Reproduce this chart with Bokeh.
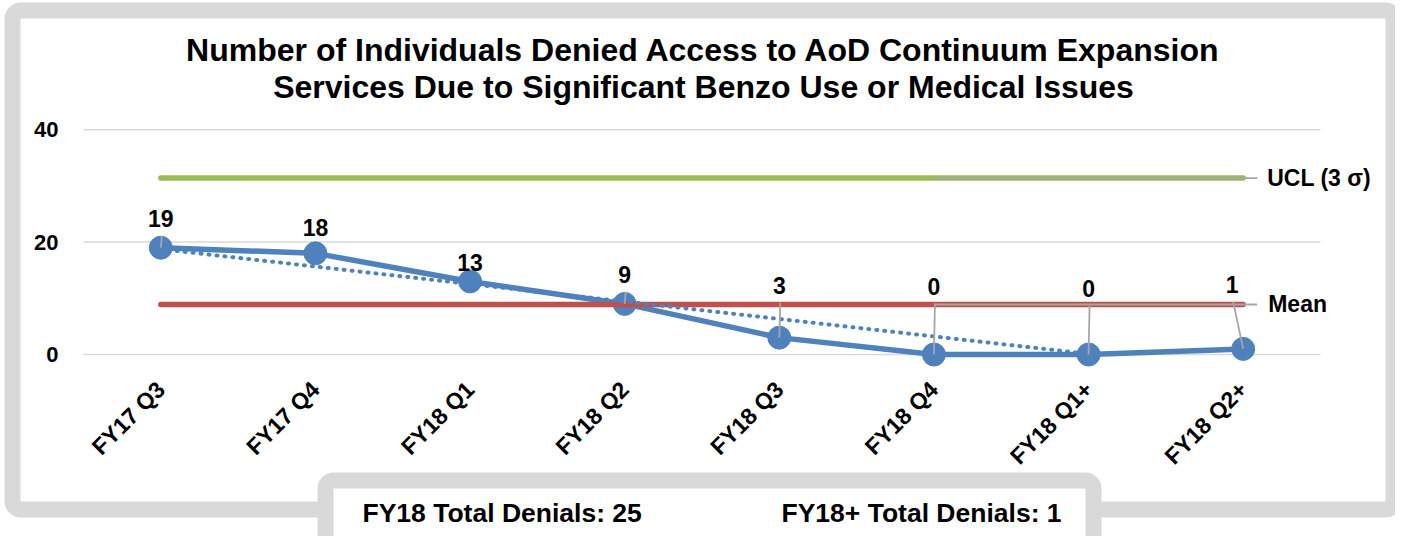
import math
import numpy as np
from bokeh.plotting import figure
from bokeh.models import (FixedTicker, Range1d, BoxAnnotation, Label, LabelSet,
                          ColumnDataSource)
from bokeh.core.properties import value
from bokeh.embed import file_html
from bokeh.resources import INLINE

# ---------------- data ----------------
categories = ["FY17 Q3", "FY17 Q4", "FY18 Q1", "FY18 Q2",
              "FY18 Q3", "FY18 Q4", "FY18 Q1+", "FY18 Q2+"]
denials = [19, 18, 13, 9, 3, 0, 0, 1]
mean_value = 8.9
ucl_value = 31.4
y_ticks = [0, 20, 40]
title_lines = ["Number of Individuals Denied Access to AoD Continuum Expansion",
               "Services Due to Significant Benzo Use or Medical Issues"]
fy18_total = 25
fy18plus_total = 1
trend_last_index = 6          # the dotted trend line stops at "FY18 Q1+"
control_leader_start = 5      # grey leader overlay starts at "FY18 Q4"

# ---------------- style / layout ----------------
FONT = "Liberation Sans"
BLUE = "#4F81BD"
RED = "#C0504D"
GREEN = "#9BBB59"
FRAME_GRAY = "#D9D9D9"
LEADER = "#A6A6A6"

W, H = 1395, 536
n = len(categories)
PLOT_L, PLOT_R = 83, 1320        # pixel extent of the plotting area
Y0_PX = 354                      # pixel row of y = 0
PXX = (PLOT_R - PLOT_L) / n      # px per category
PXY = 5.62                       # px per y unit
x_start = -0.5 - PLOT_L / PXX
x_end = (n - 0.5) + (W - PLOT_R) / PXX
y_start = -(H - Y0_PX) / PXY
y_end = Y0_PX / PXY
X_AXIS_PX = 366                  # pixel row where the category axis sits

# label offsets (pixels above the point) and horizontal shifts
label_dy = [29, 26, 19, 29, 52, 68, 66, 64]
label_dx = [0, 0, 0, 0, 0, 0, 0, -11]
show_leader = [True, False, False, True, True, True, True, True]

p = figure(width=W, height=H, output_backend="svg", toolbar_location=None,
           title=None, tools="",
           x_range=Range1d(x_start, x_end), y_range=Range1d(y_start, y_end),
           min_border=0,
           background_fill_color="white", border_fill_color="white",
           outline_line_color=None)

# axes (placed inside the canvas at fixed locations)
p.xaxis.ticker = FixedTicker(ticks=list(range(n)))
p.xaxis.major_label_overrides = {i: c for i, c in enumerate(categories)}
p.xaxis.major_label_orientation = math.pi / 4
p.xaxis.fixed_location = (Y0_PX - X_AXIS_PX) / PXY
p.yaxis.ticker = FixedTicker(ticks=y_ticks)
p.yaxis.fixed_location = -0.5
for ax in (p.xaxis, p.yaxis):
    ax.axis_line_color = None
    ax.major_tick_line_color = None
    ax.minor_tick_line_color = None
    ax.major_tick_out = 0
    ax.major_tick_in = 0
    ax.major_label_text_font = FONT
    ax.major_label_text_font_style = "bold"
    ax.major_label_text_color = "black"
p.xaxis.major_label_text_font_size = "23px"
p.xaxis.major_label_standoff = 19
p.yaxis.major_label_text_font_size = "22px"
p.yaxis.major_label_standoff = 25
p.grid.visible = False

x = list(range(n))

# horizontal gridlines from the y ticks
p.segment(x0=[-0.5] * len(y_ticks), x1=[n - 0.5] * len(y_ticks), y0=y_ticks, y1=y_ticks,
          line_color=FRAME_GRAY, line_width=1.5)

# main series
p.line(x, denials, line_color=BLUE, line_width=5.5)
p.scatter(x, denials, size=23, fill_color=BLUE, line_color=BLUE)

# mean and UCL
p.line([0, n - 1], [mean_value, mean_value], line_color=RED, line_width=5.5, line_cap="round")
p.line([0, n - 1], [ucl_value, ucl_value], line_color=GREEN, line_width=5.5, line_cap="round")

# linear trend (dotted)
slope, intercept = np.polyfit(x, denials, 1)
tx = [0, trend_last_index]
p.line(tx, [intercept + slope * t for t in tx], line_color=BLUE, line_width=4,
       line_dash="1 7", line_cap="round")

# leader overlays of UCL / Mean labels
lead_end = (n - 1) + 14 / PXX
p.segment(x0=[control_leader_start] * 2, y0=[ucl_value, mean_value],
          x1=[lead_end] * 2, y1=[ucl_value, mean_value],
          line_color=LEADER, line_width=1.8)

# data label leader lines
lx0, ly0, lx1, ly1 = [], [], [], []
for i, v in enumerate(denials):
    if show_leader[i]:
        lx0.append(i + (label_dx[i] + 1) / PXX)
        ly0.append(v + (label_dy[i] - 17) / PXY)
        lx1.append(i)
        ly1.append(v)
p.segment(x0=lx0, y0=ly0, x1=lx1, y1=ly1, line_color=LEADER, line_width=1.8)

# data labels
src = ColumnDataSource(dict(x=x, y=denials, t=[str(v) for v in denials],
                            dx=label_dx, dy=label_dy))
p.add_layout(LabelSet(x="x", y="y", text="t", source=src, x_offset="dx", y_offset="dy",
                      text_align="center", text_baseline="middle",
                      text_font=value(FONT), text_font_style="bold",
                      text_font_size="23px", text_color="black"))

# UCL / Mean labels
for val, txt, off in [(ucl_value, "UCL (3 σ)", 24), (mean_value, "Mean", 25)]:
    p.add_layout(Label(x=n - 1, y=val, x_offset=off, text=txt,
                       text_align="left", text_baseline="middle",
                       text_font=FONT, text_font_style="bold", text_font_size="23px",
                       text_color="black"))

# outer frame (screen units: from canvas left / bottom)
p.add_layout(BoxAnnotation(left=12, right=1393, top=H - 10, bottom=H - 509,
                           left_units="screen", right_units="screen",
                           top_units="screen", bottom_units="screen",
                           fill_color=None, fill_alpha=0,
                           line_color=FRAME_GRAY, line_alpha=1, line_width=16,
                           border_radius=8, level="overlay"))
# bottom box
p.add_layout(BoxAnnotation(left=325, right=1093, top=H - 480, bottom=H - 544,
                           left_units="screen", right_units="screen",
                           top_units="screen", bottom_units="screen",
                           fill_color="white", fill_alpha=1,
                           line_color=FRAME_GRAY, line_alpha=1, line_width=16,
                           border_radius=8, level="overlay"))

# title
for txt, yy in zip(title_lines, [49, 86]):
    p.add_layout(Label(x=703, y=H - yy, x_units="screen", y_units="screen", text=txt,
                       text_align="center", text_baseline="middle",
                       text_font=FONT, text_font_style="bold", text_font_size="32px",
                       text_color="black", level="overlay"))

# bottom box texts
for txt, xx in [(f"FY18 Total Denials: {fy18_total}", 362),
                (f"FY18+ Total Denials: {fy18plus_total}", 781)]:
    p.add_layout(Label(x=xx, y=H - 512.5, x_units="screen", y_units="screen", text=txt,
                       text_align="left", text_baseline="middle",
                       text_font=FONT, text_font_style="bold", text_font_size="26.5px",
                       text_color="black", level="overlay"))

open("out.html", "w").write(file_html(p, INLINE))
